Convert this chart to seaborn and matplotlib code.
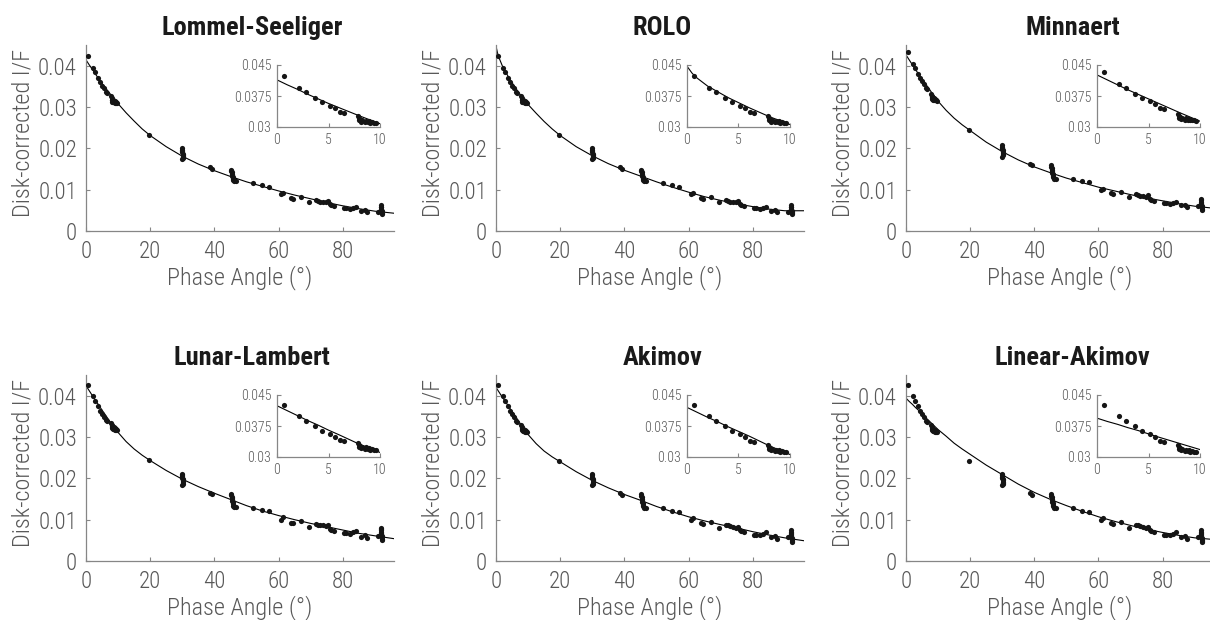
import numpy as np
import pandas as pd
import matplotlib
matplotlib.use("Agg")
import matplotlib.pyplot as plt
from matplotlib import font_manager as fm
import seaborn as sns

# ---------------------------------------------------------------- data
# observed phase angles (deg), shared by every photometric correction
phase = [
    0.7, 2.1, 2.8, 3.7, 4.4, 5.1, 5.6, 6.1, 6.5,
    7.9, 8.0, 8.0, 8.1, 8.2, 8.3, 8.5, 8.6, 8.8, 8.9, 9.0, 9.2, 9.4, 9.6,
    19.6,
    29.8, 29.9, 30.0, 30.0, 30.1, 30.1, 30.2, 30.2, 30.3, 30.0,
    38.6, 39.3,
    45.2, 45.3, 45.4, 45.5, 45.5, 45.6, 45.7, 45.8, 45.9, 46.0,
    46.8, 52.0, 55.0, 57.0, 60.9, 61.4, 64.0, 64.5, 67.1, 69.5,
    71.6, 72.3, 73.0, 73.8, 74.7, 75.4, 76.0, 76.5, 77.2,
    80.3, 81.1, 82.2, 83.2, 84.3, 85.8, 86.9, 87.6, 91.0,
    91.8, 91.9, 92.0, 92.0, 92.1, 92.1, 92.2, 92.3, 92.3, 92.4,
]

# disk-corrected I/F, Lommel-Seeliger disk function (also used by ROLO)
iof_lommel = [
    0.0424, 0.0395, 0.0384, 0.0370, 0.0360, 0.0352, 0.0346, 0.0336, 0.0333,
    0.0326, 0.0321, 0.0316, 0.0318, 0.0313, 0.0316, 0.0312, 0.0315, 0.0311, 0.0314, 0.0310, 0.0312, 0.0310, 0.0309,
    0.0233,
    0.0200, 0.0196, 0.0193, 0.0190, 0.0187, 0.0185, 0.0182, 0.0180, 0.0177, 0.0175,
    0.0155, 0.0151,
    0.0148, 0.0145, 0.0142, 0.0139, 0.0136, 0.0133, 0.0130, 0.0127, 0.0124, 0.0121,
    0.0120, 0.0117, 0.0111, 0.0107, 0.0089, 0.0093, 0.0080, 0.0077, 0.0083, 0.0071,
    0.0075, 0.0073, 0.0071, 0.0071, 0.0069, 0.0072, 0.0065, 0.0063, 0.0060,
    0.0056, 0.0055, 0.0054, 0.0056, 0.0058, 0.0049, 0.0051, 0.0045, 0.0047,
    0.0062, 0.0059, 0.0057, 0.0054, 0.0052, 0.0050, 0.0048, 0.0046, 0.0044, 0.0042,
]

# disk-corrected I/F, Minnaert disk function
iof_minnaert = [
    0.0432, 0.0404, 0.0394, 0.0380, 0.0369, 0.0362, 0.0355, 0.0345, 0.0343,
    0.0332, 0.0327, 0.0322, 0.0325, 0.0320, 0.0322, 0.0318, 0.0321, 0.0317, 0.0320, 0.0316, 0.0318, 0.0316, 0.0315,
    0.0245,
    0.0208, 0.0204, 0.0201, 0.0198, 0.0195, 0.0192, 0.0189, 0.0186, 0.0183, 0.0180,
    0.0162, 0.0159,
    0.0160, 0.0156, 0.0152, 0.0148, 0.0144, 0.0140, 0.0137, 0.0134, 0.0130, 0.0126,
    0.0126, 0.0126, 0.0121, 0.0118, 0.0098, 0.0102, 0.0093, 0.0090, 0.0094, 0.0082,
    0.0090, 0.0087, 0.0085, 0.0085, 0.0083, 0.0086, 0.0078, 0.0076, 0.0072,
    0.0067, 0.0067, 0.0065, 0.0067, 0.0071, 0.0062, 0.0064, 0.0057, 0.0060,
    0.0077, 0.0074, 0.0071, 0.0068, 0.0066, 0.0063, 0.0060, 0.0057, 0.0054, 0.0050,
]

# disk-corrected I/F, Lunar-Lambert disk function
iof_lunar_lambert = [
    0.0426, 0.0399, 0.0388, 0.0376, 0.0364, 0.0356, 0.0349, 0.0340, 0.0339,
    0.0334, 0.0329, 0.0324, 0.0327, 0.0322, 0.0324, 0.0320, 0.0323, 0.0319, 0.0322, 0.0318, 0.0320, 0.0318, 0.0317,
    0.0244,
    0.0211, 0.0208, 0.0205, 0.0202, 0.0199, 0.0196, 0.0193, 0.0190, 0.0187, 0.0184,
    0.0165, 0.0162,
    0.0163, 0.0159, 0.0156, 0.0152, 0.0149, 0.0145, 0.0142, 0.0138, 0.0134, 0.0131,
    0.0130, 0.0128, 0.0124, 0.0120, 0.0100, 0.0106, 0.0093, 0.0091, 0.0096, 0.0083,
    0.0090, 0.0088, 0.0087, 0.0086, 0.0084, 0.0086, 0.0078, 0.0075, 0.0072,
    0.0068, 0.0068, 0.0066, 0.0069, 0.0072, 0.0058, 0.0063, 0.0055, 0.0060,
    0.0081, 0.0078, 0.0075, 0.0071, 0.0068, 0.0065, 0.0061, 0.0058, 0.0054, 0.0050,
]

# disk-corrected I/F, Akimov disk function (Akimov and Linear-Akimov)
iof_akimov = [
    0.0426, 0.0399, 0.0388, 0.0374, 0.0364, 0.0356, 0.0349, 0.0339, 0.0337,
    0.0328, 0.0324, 0.0319, 0.0322, 0.0317, 0.0319, 0.0315, 0.0318, 0.0314, 0.0317, 0.0313, 0.0315, 0.0313, 0.0312,
    0.0242,
    0.0210, 0.0207, 0.0204, 0.0201, 0.0198, 0.0195, 0.0192, 0.0189, 0.0186, 0.0183,
    0.0164, 0.0160,
    0.0161, 0.0157, 0.0154, 0.0150, 0.0147, 0.0143, 0.0140, 0.0136, 0.0132, 0.0129,
    0.0128, 0.0128, 0.0122, 0.0118, 0.0098, 0.0103, 0.0092, 0.0089, 0.0094, 0.0081,
    0.0088, 0.0086, 0.0084, 0.0083, 0.0081, 0.0083, 0.0075, 0.0072, 0.0069,
    0.0064, 0.0064, 0.0062, 0.0065, 0.0069, 0.0057, 0.0060, 0.0053, 0.0057,
    0.0074, 0.0071, 0.0068, 0.0065, 0.0062, 0.0059, 0.0056, 0.0052, 0.0049, 0.0045,
]

# fitted phase functions, tabulated on a common phase grid
model_phase = [0, 0.5, 1, 2, 3, 4, 5, 6, 8, 10, 12.5, 15, 17.5, 20, 25, 30,
               35, 40, 45, 50, 55, 60, 65, 70, 75, 80, 85, 90, 96]
fit_lommel = [0.0414, 0.0408, 0.0402, 0.0391, 0.0379, 0.0368, 0.0357, 0.0347, 0.0327, 0.0308,
              0.0286, 0.0266, 0.0247, 0.0231, 0.0204, 0.0181, 0.0162, 0.0146, 0.0132, 0.0119,
              0.0108, 0.0097, 0.0087, 0.0078, 0.0069, 0.0061, 0.0054, 0.0048, 0.0043]
fit_rolo = [0.0447, 0.0430, 0.0418, 0.0399, 0.0385, 0.0371, 0.0359, 0.0347, 0.0325, 0.0306,
            0.0285, 0.0265, 0.0247, 0.0231, 0.0204, 0.0182, 0.0163, 0.0147, 0.0133, 0.0119,
            0.0106, 0.0094, 0.0083, 0.0074, 0.0066, 0.0059, 0.0053, 0.0049, 0.0049]
fit_minnaert = [0.0426, 0.0420, 0.0414, 0.0402, 0.0390, 0.0379, 0.0368, 0.0357, 0.0335, 0.0314,
                0.0292, 0.0273, 0.0257, 0.0243, 0.0215, 0.0192, 0.0172, 0.0155, 0.0141, 0.0128,
                0.0117, 0.0106, 0.0097, 0.0088, 0.0080, 0.0073, 0.0066, 0.0060, 0.0055]
fit_lunar_lambert = [0.0424, 0.0418, 0.0412, 0.0400, 0.0388, 0.0377, 0.0365, 0.0354, 0.0331, 0.0311,
                     0.0289, 0.0271, 0.0256, 0.0243, 0.0219, 0.0198, 0.0180, 0.0164, 0.0149, 0.0134,
                     0.0121, 0.0110, 0.0100, 0.0091, 0.0083, 0.0075, 0.0067, 0.0061, 0.0054]
fit_akimov = [0.0420, 0.0414, 0.0408, 0.0396, 0.0385, 0.0373, 0.0362, 0.0351, 0.0327, 0.0306,
              0.0284, 0.0266, 0.0252, 0.0240, 0.0216, 0.0195, 0.0177, 0.0161, 0.0147, 0.0132,
              0.0119, 0.0107, 0.0097, 0.0088, 0.0080, 0.0071, 0.0063, 0.0056, 0.0049]
fit_linear_akimov = [0.0394, 0.0390, 0.0386, 0.0379, 0.0371, 0.0364, 0.0356, 0.0348, 0.0333, 0.0318,
                     0.0302, 0.0285, 0.0271, 0.0258, 0.0232, 0.0209, 0.0186, 0.0166, 0.0149, 0.0134,
                     0.0120, 0.0107, 0.0096, 0.0086, 0.0077, 0.0069, 0.0062, 0.0056, 0.0052]

titles = ["Lommel-Seeliger", "ROLO", "Minnaert",
          "Lunar-Lambert", "Akimov", "Linear-Akimov"]
observed = [iof_lommel, iof_lommel, iof_minnaert,
            iof_lunar_lambert, iof_akimov, iof_akimov]
fitted = [fit_lommel, fit_rolo, fit_minnaert,
          fit_lunar_lambert, fit_akimov, fit_linear_akimov]

main_yticks = [0, 0.01, 0.02, 0.03, 0.04]
main_yticklabels = ["0", "0.01", "0.02", "0.03", "0.04"]
main_xticks = [0, 20, 40, 60, 80]
inset_yticks = [0.03, 0.0375, 0.045]
inset_yticklabels = ["0.03", "0.0375", "0.045"]
inset_xticks = [0, 5, 10]

# ---------------------------------------------------------------- style
sns.set_theme(style="white")
names = {f.name for f in fm.fontManager.ttflist}
family = next((n for n in ["Roboto Condensed", "Liberation Sans Narrow",
                           "DejaVu Sans Condensed", "DejaVu Sans"] if n in names),
              "DejaVu Sans")
plt.rcParams["font.family"] = [family, "DejaVu Sans"]
plt.rcParams["font.stretch"] = "condensed"

GREY = "#585858"
SPINE = "#868686"
DOT = "#151515"

W, H = 1210, 620
fig = plt.figure(figsize=(W / 100, H / 100), dpi=100)

col_left = [86, 496, 906]          # px
row_top = [45, 375]                # px
ax_w, ax_h = 308, 186              # px
XMAX = 96.0


def px_rect(left, top, w, h):
    return [left / W, 1 - (top + h) / H, w / W, h / H]


def style_axes(ax, size, pad):
    sns.despine(ax=ax)
    for s in ("left", "bottom"):
        ax.spines[s].set_color(SPINE)
        ax.spines[s].set_linewidth(0.9)
    ax.tick_params(direction="in", length=3, width=0.8, color=SPINE,
                   labelsize=size, labelcolor=GREY, pad=pad,
                   left=True, bottom=True)
    for lab in ax.get_xticklabels() + ax.get_yticklabels():
        lab.set_fontweight("light")


for i, (title, obs, fit) in enumerate(zip(titles, observed, fitted)):
    r, c = divmod(i, 3)
    left, top = col_left[c], row_top[r]
    obs_df = pd.DataFrame({"phase": phase, "iof": obs})
    fit_df = pd.DataFrame({"phase": model_phase, "iof": fit})

    ax = fig.add_axes(px_rect(left, top, ax_w, ax_h))
    sns.lineplot(data=fit_df, x="phase", y="iof", ax=ax, color="black",
                 linewidth=0.8, sort=False, estimator=None)
    sns.scatterplot(data=obs_df, x="phase", y="iof", ax=ax, color=DOT,
                    s=14, linewidth=0, zorder=3)
    ax.set_xlim(0, XMAX)
    ax.set_ylim(0, 0.045)
    ax.set_xticks(main_xticks)
    ax.set_xticklabels([str(t) for t in main_xticks])
    ax.set_yticks(main_yticks)
    ax.set_yticklabels(main_yticklabels)
    style_axes(ax, 16.5, 6.5)
    ax.set_xlabel("Phase Angle (°)", fontsize=17.5, color=GREY,
                  fontweight="light")
    ax.set_ylabel("Disk-corrected I/F", fontsize=17.5, color=GREY,
                  fontweight="light")
    ax.xaxis.label.set_verticalalignment("baseline")
    ax.xaxis.set_label_coords(0.5, -0.285)
    ax.yaxis.label.set_verticalalignment("baseline")
    ax.yaxis.set_label_coords(-0.182, 0.525)
    ax.text(0.54, 1.054, title, transform=ax.transAxes, ha="center",
            va="baseline", fontsize=19, fontweight="bold", color="#1a1a1a")

    # zoom on the low phase angles
    ins = fig.add_axes(px_rect(left + 191, top + 20, 103, 62))
    sns.lineplot(data=fit_df, x="phase", y="iof", ax=ins, color="black",
                 linewidth=0.8, sort=False, estimator=None)
    sns.scatterplot(data=obs_df, x="phase", y="iof", ax=ins, color=DOT,
                    s=14, linewidth=0, zorder=3)
    ins.set_xlim(0, 10)
    ins.set_ylim(0.03, 0.045)
    ins.set_xticks(inset_xticks)
    ins.set_xticklabels([str(t) for t in inset_xticks])
    ins.set_yticks(inset_yticks)
    ins.set_yticklabels(inset_yticklabels)
    ins.set_xlabel("")
    ins.set_ylabel("")
    ins.patch.set_alpha(0)
    style_axes(ins, 10, 4)

fig.savefig("out.png", dpi=100)
